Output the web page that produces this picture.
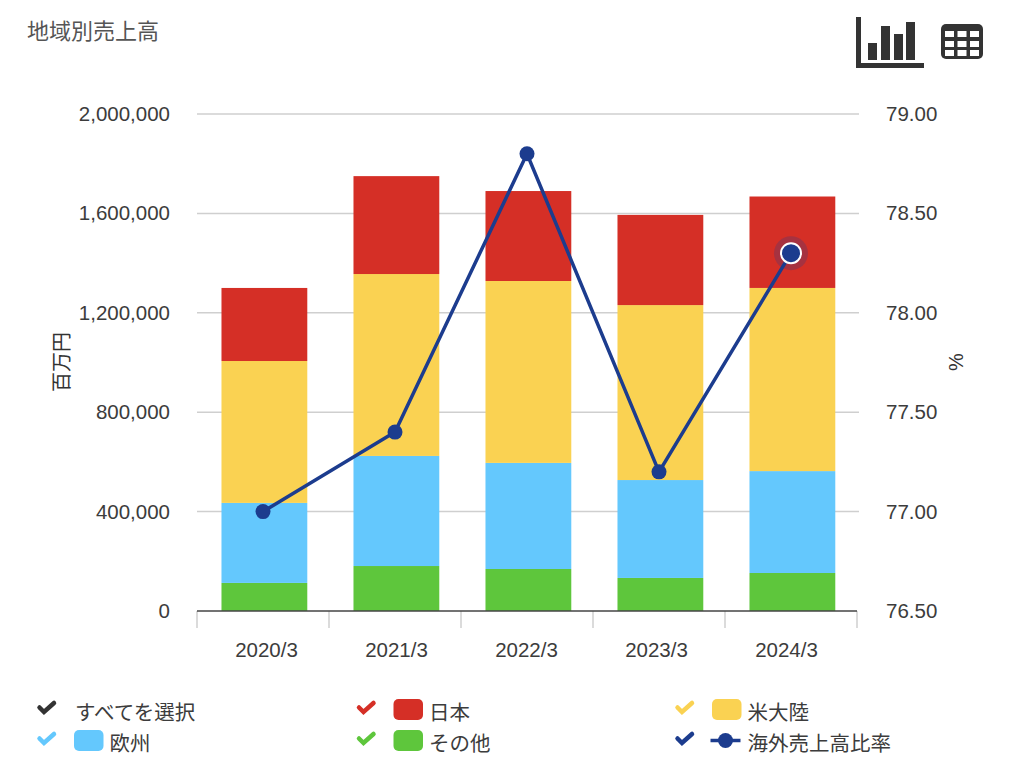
<!DOCTYPE html>
<html>
<head>
<meta charset="utf-8">
<script src="https://cdn.jsdelivr.net/npm/d3@7"></script>
<style>
  html, body { margin: 0; padding: 0; background: #fff; }
  text { font-family: "Liberation Sans", "Noto Sans CJK JP", sans-serif; }
  .jp { font-family: "Noto Sans CJK JP", sans-serif; }
</style>
</head>
<body>
<div id="chart"></div>
<script>
// Chart data
const years = ['2020/3', '2021/3', '2022/3', '2023/3', '2024/3'];
const other = [113000, 181000, 169000, 133000, 153000];
const europe = [322000, 443000, 427000, 394000, 410000];
const americas = [571000, 732000, 732000, 704000, 737000];
const japan = [294000, 394000, 362000, 363000, 368000];
const overseasRatio = [77.0, 77.4, 78.8, 77.2, 78.3];
const leftTicks = [0, 400000, 800000, 1200000, 1600000, 2000000];
const rightTicks = [76.5, 77.0, 77.5, 78.0, 78.5, 79.0];

const seriesKeys = ['other', 'europe', 'americas', 'japan'];
const seriesColors = {
  other: '#5ec63c',
  europe: '#64c8fd',
  americas: '#fad252',
  japan: '#d52f26'
};
const lineColor = '#1c3c8e';
const textColor = '#3c3c3c';

const width = 1024;
const height = 761;
const margin = { top: 114, right: 167, bottom: 150, left: 197 };

const svg = d3
  .select('#chart')
  .append('svg')
  .attr('width', width)
  .attr('height', height)
  .style('display', 'block');

// Scales. Bars sit slightly right of the category centre, as in the original
const x = d3
  .scaleBand()
  .domain(years)
  .range([margin.left, width - margin.right])
  .paddingInner(0.35)
  .paddingOuter(0.175)
  .align(0.53);

// Line points and separators use the plain category slots
const slot = d3
  .scaleBand()
  .domain(years)
  .range([margin.left, width - margin.right]);

// Tick labels are spaced a little tighter than the slots
const labelX = d3
  .scalePoint()
  .domain(years)
  .range([266.5, 786.5]);

const yLeft = d3
  .scaleLinear()
  .domain([0, 2000000])
  .range([height - margin.bottom, margin.top]);

const yRight = d3
  .scaleLinear()
  .domain([76.5, 79])
  .range([height - margin.bottom, margin.top]);

// Title
svg
  .append('text')
  .attr('class', 'jp')
  .attr('x', 27)
  .attr('y', 39)
  .attr('font-size', 22)
  .attr('fill', '#555')
  .text('地域別売上高');

// Left axis with gridlines
const leftAxis = svg
  .append('g')
  .attr('transform', `translate(${margin.left},0)`)
  .call(
    d3
      .axisLeft(yLeft)
      .tickValues(leftTicks)
      .tickFormat(d3.format(','))
      .tickSize(0)
      .tickPadding(27)
  );
leftAxis.select('.domain').remove();
leftAxis.selectAll('text').attr('font-size', 20.5).attr('fill', textColor).style('font-family', '"Liberation Sans"');

svg
  .append('g')
  .selectAll('line')
  .data(leftTicks.slice(1))
  .enter()
  .append('line')
  .attr('x1', margin.left)
  .attr('x2', width - margin.right + 2)
  .attr('y1', (d) => yLeft(d))
  .attr('y2', (d) => yLeft(d))
  .attr('stroke', '#cfcfcf')
  .attr('stroke-width', 1.5);

// Right axis
const rightAxis = svg
  .append('g')
  .attr('transform', `translate(${width - margin.right},0)`)
  .call(
    d3
      .axisRight(yRight)
      .tickValues(rightTicks)
      .tickFormat(d3.format('.2f'))
      .tickSize(0)
      .tickPadding(29)
  );
rightAxis.select('.domain').remove();
rightAxis.selectAll('text').attr('font-size', 20.5).attr('fill', textColor).style('font-family', '"Liberation Sans"');

// Stacked bars
const rows = years.map((year, i) => ({
  year,
  other: other[i],
  europe: europe[i],
  americas: americas[i],
  japan: japan[i]
}));
const stacked = d3.stack().keys(seriesKeys)(rows);

svg
  .append('g')
  .selectAll('g')
  .data(stacked)
  .enter()
  .append('g')
  .attr('fill', (d) => seriesColors[d.key])
  .selectAll('rect')
  .data((d) => d)
  .enter()
  .append('rect')
  .attr('x', (d) => x(d.data.year))
  .attr('width', x.bandwidth())
  .attr('y', (d) => yLeft(d[1]))
  .attr('height', (d) => yLeft(d[0]) - yLeft(d[1]));

// Bottom axis: baseline, separators between categories, labels
const bottomY = height - margin.bottom;
const separators = years.map((d) => slot(d));
separators.push(width - margin.right);

svg
  .append('g')
  .selectAll('line')
  .data(separators)
  .enter()
  .append('line')
  .attr('x1', (d) => d)
  .attr('x2', (d) => d)
  .attr('y1', bottomY)
  .attr('y2', bottomY + 17)
  .attr('stroke', '#cfcfcf')
  .attr('stroke-width', 1.5);

svg
  .append('line')
  .attr('x1', margin.left)
  .attr('x2', width - margin.right)
  .attr('y1', bottomY)
  .attr('y2', bottomY)
  .attr('stroke', '#444')
  .attr('stroke-width', 1.5);

svg
  .append('g')
  .selectAll('text')
  .data(years)
  .enter()
  .append('text')
  .attr('x', (d) => labelX(d))
  .attr('y', bottomY + 46)
  .attr('text-anchor', 'middle')
  .attr('font-size', 20.5)
  .attr('fill', textColor)
  .text((d) => d);

// Axis titles
svg
  .append('text')
  .attr('class', 'jp')
  .attr('transform', 'translate(63.5,362) rotate(-90)')
  .attr('text-anchor', 'middle')
  .attr('dominant-baseline', 'middle')
  .attr('font-size', 20)
  .attr('fill', '#333')
  .text('百万円');

svg
  .append('text')
  .attr('transform', 'translate(958,362) rotate(-90)')
  .attr('text-anchor', 'middle')
  .attr('dominant-baseline', 'middle')
  .attr('font-size', 20)
  .attr('fill', '#333')
  .text('%');

// Ratio line on the right scale
const linePoints = years.map((year, i) => ({ year, value: overseasRatio[i] }));
const lineX = (d) => slot(d.year) + slot.bandwidth() / 2;
const line = d3
  .line()
  .x(lineX)
  .y((d) => yRight(d.value));

svg
  .append('path')
  .datum(linePoints)
  .attr('d', line)
  .attr('fill', 'none')
  .attr('stroke', lineColor)
  .attr('stroke-width', 3.5);

// Hover halo on the last point
const hovered = linePoints[linePoints.length - 1];
svg
  .append('circle')
  .attr('cx', lineX(hovered))
  .attr('cy', yRight(hovered.value))
  .attr('r', 17)
  .attr('fill', lineColor)
  .attr('fill-opacity', 0.25);

svg
  .append('g')
  .selectAll('circle')
  .data(linePoints)
  .enter()
  .append('circle')
  .attr('cx', lineX)
  .attr('cy', (d) => yRight(d.value))
  .attr('r', (d) => (d === hovered ? 10 : 7.5))
  .attr('fill', lineColor)
  .attr('stroke', (d) => (d === hovered ? '#fff' : 'none'))
  .attr('stroke-width', 2);

// Legend
const legendItems = [
  { label: 'すべてを選択', color: '#333', type: 'none', col: 0, row: 0 },
  { label: '日本', color: seriesColors.japan, type: 'bar', col: 1, row: 0 },
  { label: '米大陸', color: seriesColors.americas, type: 'bar', col: 2, row: 0 },
  { label: '欧州', color: seriesColors.europe, type: 'bar', col: 0, row: 1 },
  { label: 'その他', color: seriesColors.other, type: 'bar', col: 1, row: 1 },
  { label: '海外売上高比率', color: lineColor, type: 'line', col: 2, row: 1 }
];
const legendCols = [36.5, 356, 674.5];
const legendRows = [699, 730];

const legend = svg
  .selectAll('g.legend')
  .data(legendItems)
  .enter()
  .append('g')
  .attr('class', 'legend')
  .attr('transform', (d) => `translate(${legendCols[d.col]},${legendRows[d.row]})`);

legend
  .append('path')
  .attr('d', 'M3 8.5 L7.5 13 L17.5 4')
  .attr('fill', 'none')
  .attr('stroke', (d) => d.color)
  .attr('stroke-width', 4.5)
  .attr('stroke-linecap', 'round');

legend
  .filter((d) => d.type === 'bar')
  .append('rect')
  .attr('x', 37.5)
  .attr('y', 0)
  .attr('width', 29.5)
  .attr('height', 21)
  .attr('rx', 5)
  .attr('fill', (d) => d.color);

legend
  .filter((d) => d.type === 'line')
  .append('line')
  .attr('x1', 36)
  .attr('x2', 66)
  .attr('y1', 10.5)
  .attr('y2', 10.5)
  .attr('stroke', (d) => d.color)
  .attr('stroke-width', 3.5);

legend
  .filter((d) => d.type === 'line')
  .append('circle')
  .attr('cx', 51)
  .attr('cy', 10.5)
  .attr('r', 7.5)
  .attr('fill', (d) => d.color);

legend
  .append('text')
  .attr('class', 'jp')
  .attr('x', (d) => (d.type === 'none' ? 38.5 : 73))
  .attr('y', 21)
  .attr('font-size', 20.5)
  .attr('fill', textColor)
  .text((d) => d.label);

// Chart / table toggle icons
const chartIcon = svg.append('g').attr('fill', '#333');
chartIcon.append('rect').attr('x', 856).attr('y', 17).attr('width', 5).attr('height', 51);
chartIcon.append('rect').attr('x', 856).attr('y', 63).attr('width', 68).attr('height', 5);
[[868, 43], [881, 26], [894, 34], [906, 22]].forEach(([bx, by]) => {
  chartIcon.append('rect').attr('x', bx).attr('y', by).attr('width', 9).attr('height', 60 - by);
});

const tableIcon = svg.append('g');
tableIcon.append('rect').attr('x', 941).attr('y', 24).attr('width', 42).attr('height', 35).attr('rx', 5).attr('fill', '#333');
[945, 957.5, 970].forEach((cx) => {
  [31, 41, 50].forEach((cy) => {
    tableIcon.append('rect').attr('x', cx).attr('y', cy).attr('width', 9).attr('height', 6).attr('fill', '#fff');
  });
});
</script>
</body>
</html>
